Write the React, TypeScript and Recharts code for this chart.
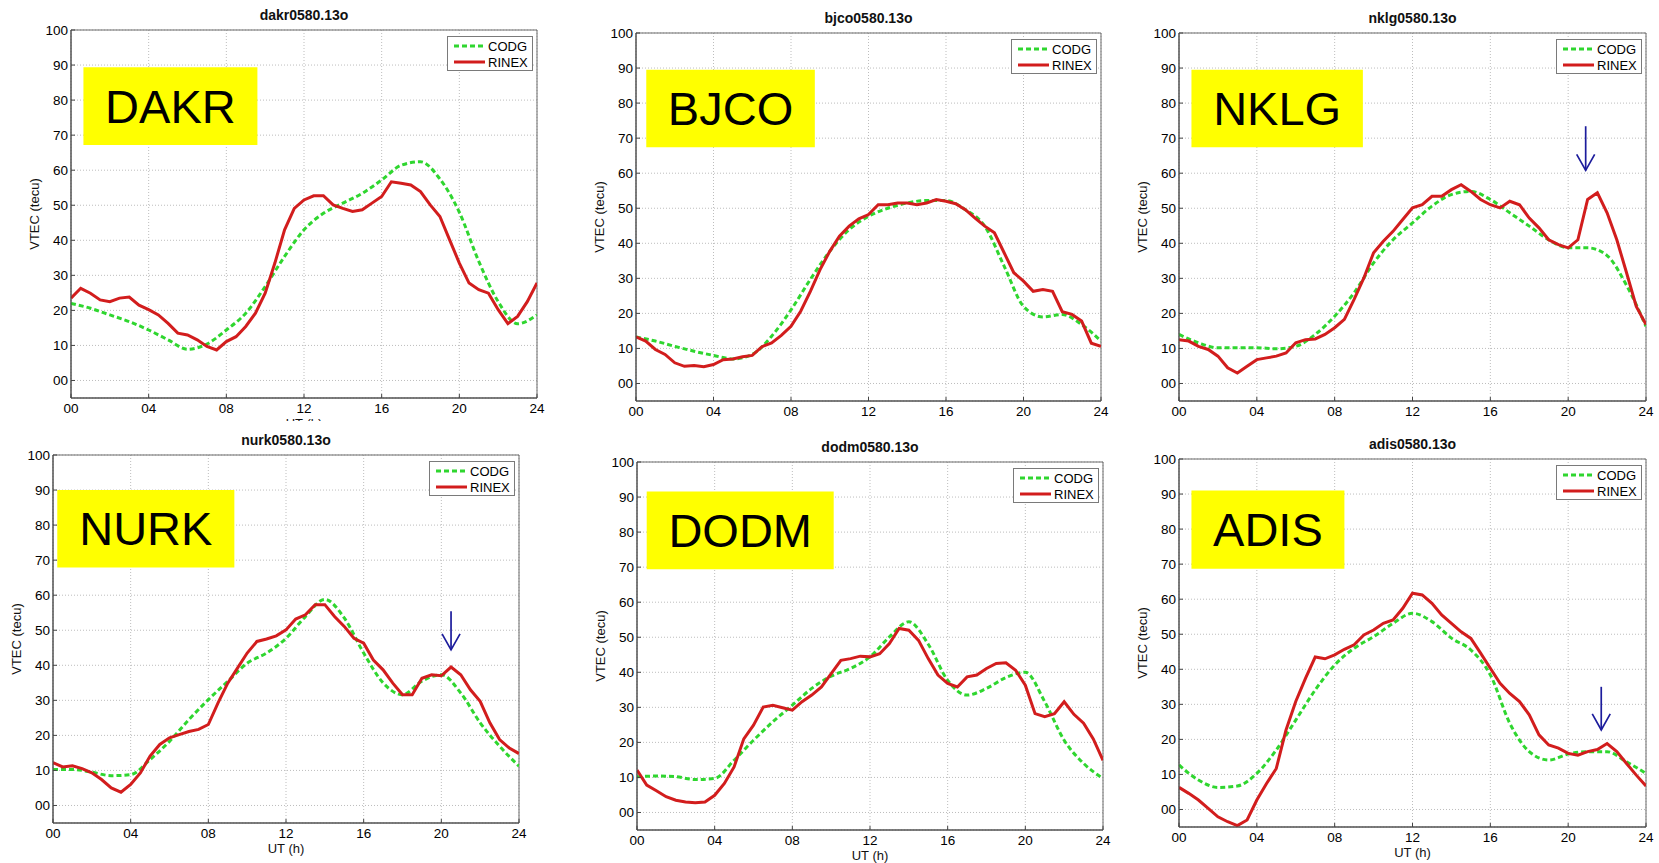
import React from 'react';
import { LineChart, Line, XAxis, YAxis, CartesianGrid, Legend, ReferenceArea, ReferenceLine } from 'recharts';

const FONT = 'Arial, "Liberation Sans", Helvetica, sans-serif';
const GREEN = '#2fd62f';
const RED = '#d21d1d';
const BLUE = '#1c1c9c';

// UT hours: CODG read hourly, RINEX read every half hour
const codgHours = [0, 1, 2, 3, 4, 5, 6, 7, 8, 9, 10, 11, 12, 13, 14, 15, 16, 17, 18, 19, 20, 21, 22, 23, 24];
const rinexHours = [0, 0.5, 1, 1.5, 2, 2.5, 3, 3.5, 4, 4.5, 5, 5.5, 6, 6.5, 7, 7.5, 8, 8.5, 9, 9.5, 10, 10.5, 11, 11.5, 12, 12.5, 13, 13.5, 14, 14.5, 15, 15.5, 16, 16.5, 17, 17.5, 18, 18.5, 19, 19.5, 20, 20.5, 21, 21.5, 22, 22.5, 23, 23.5, 24];
const xTicks = [0, 4, 8, 12, 16, 20, 24];
const yTicks = [0, 10, 20, 30, 40, 50, 60, 70, 80, 90, 100];

const dakrCodg = [22.0, 20.6, 18.7, 16.8, 14.4, 11.6, 8.9, 10.4, 14.4, 19.2, 26.8, 35.4, 43.0, 47.7, 50.6, 53.4, 57.2, 61.4, 62.4, 57.5, 48.0, 34.0, 22.5, 16.2, 18.7];
const dakrRinex = [23.5, 26.3, 24.9, 23.0, 22.5, 23.5, 23.8, 21.5, 20.2, 18.7, 16.3, 13.5, 13.0, 11.6, 9.7, 8.7, 11.1, 12.5, 15.4, 19.2, 24.9, 33.5, 43.0, 49.1, 51.5, 52.7, 52.7, 50.1, 49.1, 48.2, 48.7, 50.6, 52.5, 56.7, 56.3, 55.8, 53.9, 50.1, 46.8, 40.1, 33.5, 27.8, 25.9, 24.9, 20.2, 16.2, 18.3, 22.5, 27.8];

const bjcoCodg = [13.3, 12.1, 10.6, 9.2, 8.0, 7.0, 8.3, 13.5, 21.0, 29.7, 37.7, 43.9, 47.7, 50.0, 51.5, 52.2, 52.2, 49.6, 44.9, 33.5, 22.0, 19.0, 19.7, 16.8, 12.1];
const bjcoRinex = [13.3, 12.1, 9.7, 8.3, 5.9, 4.9, 5.1, 4.8, 5.4, 6.8, 7.0, 7.6, 8.0, 10.5, 11.6, 13.7, 16.3, 20.6, 26.3, 32.5, 37.7, 42.0, 44.9, 47.0, 48.2, 51.0, 51.0, 51.5, 51.5, 51.0, 51.5, 52.5, 52.0, 51.3, 49.6, 47.2, 44.9, 43.0, 37.3, 31.6, 29.2, 26.3, 26.8, 26.3, 20.5, 19.7, 17.8, 11.5, 10.6];

const nklgCodg = [14.0, 11.6, 10.2, 10.2, 10.2, 9.9, 10.6, 14.0, 19.2, 25.9, 34.4, 41.0, 45.8, 50.6, 53.9, 54.8, 52.5, 48.7, 44.9, 41.0, 38.7, 38.7, 36.5, 28.0, 16.3];
const nklgRinex = [12.5, 12.1, 10.6, 9.7, 7.8, 4.5, 3.0, 4.9, 6.8, 7.3, 7.8, 8.7, 11.6, 12.5, 12.7, 14.0, 15.9, 18.3, 24.0, 30.1, 37.3, 40.6, 43.4, 46.8, 50.1, 51.0, 53.4, 53.4, 55.3, 56.7, 54.8, 52.5, 51.0, 50.1, 52.0, 51.0, 47.2, 44.4, 41.0, 39.6, 38.7, 41.0, 52.5, 54.4, 48.7, 41.0, 31.6, 22.0, 16.8];

const nurkCodg = [10.3, 10.3, 9.5, 8.5, 8.8, 13.1, 18.3, 24.5, 30.2, 35.4, 40.6, 43.5, 47.7, 53.9, 58.8, 53.5, 43.5, 35.0, 31.6, 35.5, 37.3, 32.1, 23.6, 16.9, 11.2];
const nurkRinex = [12.2, 11.0, 11.3, 10.5, 9.3, 7.4, 5.0, 3.8, 6.0, 9.3, 14.1, 17.4, 19.3, 20.2, 21.1, 21.7, 23.1, 29.3, 34.9, 39.2, 43.5, 46.8, 47.5, 48.4, 50.1, 53.2, 54.4, 57.3, 57.3, 53.9, 51.1, 47.7, 46.3, 41.5, 38.7, 34.9, 31.6, 31.6, 36.3, 37.3, 37.0, 39.5, 37.3, 33.0, 29.7, 23.6, 18.8, 16.4, 14.8];

const dodmCodg = [10.2, 10.4, 10.2, 9.4, 9.7, 14.9, 20.6, 25.9, 30.6, 35.4, 38.9, 41.1, 44.4, 50.1, 54.4, 48.0, 37.7, 33.5, 35.4, 38.5, 40.0, 31.6, 20.6, 14.0, 9.7];
const dodmRinex = [12.1, 7.8, 6.2, 4.5, 3.5, 3.0, 2.8, 3.0, 4.9, 8.3, 13.0, 21.0, 24.9, 30.1, 30.6, 29.9, 29.2, 31.6, 33.5, 35.8, 39.6, 43.4, 43.9, 44.6, 44.4, 45.3, 48.2, 52.5, 52.0, 49.1, 43.9, 39.2, 36.8, 35.8, 38.7, 39.2, 41.1, 42.5, 42.7, 40.6, 36.3, 28.2, 27.3, 28.2, 31.6, 28.0, 25.5, 21.0, 14.9];

const adisCodg = [12.7, 8.4, 6.3, 6.7, 10.3, 17.0, 25.5, 34.1, 41.2, 46.0, 49.3, 53.1, 56.0, 53.6, 48.9, 45.5, 38.4, 24.6, 16.5, 14.1, 15.8, 16.5, 16.5, 13.6, 10.3];
const adisRinex = [6.3, 4.6, 2.7, 0.3, -2.1, -3.5, -4.6, -3.0, 2.7, 7.4, 11.7, 22.7, 30.8, 37.4, 43.5, 43.0, 44.1, 45.7, 47.0, 49.8, 51.2, 53.1, 54.1, 57.4, 61.7, 61.2, 58.8, 55.5, 53.1, 50.7, 48.8, 44.6, 40.3, 36.0, 33.1, 30.8, 27.0, 21.3, 18.4, 17.5, 16.0, 15.5, 16.5, 17.1, 18.8, 16.5, 13.1, 9.8, 6.7];

const stationFiles = ['dakr0580.13o', 'bjco0580.13o', 'nklg0580.13o', 'nurk0580.13o', 'dodm0580.13o', 'adis0580.13o'];
const stationNames = ['DAKR', 'BJCO', 'NKLG', 'NURK', 'DODM', 'ADIS'];
const codgSeries = [dakrCodg, bjcoCodg, nklgCodg, nurkCodg, dodmCodg, adisCodg];
const rinexSeries = [dakrRinex, bjcoRinex, nklgRinex, nurkRinex, dodmRinex, adisRinex];

// yellow name boxes [x1, x2, y1, y2] and arrows [x, yFrom, yTo], in data units
const nameBoxes = [
  [0.64, 9.6, 67.2, 89.4],
  [0.53, 9.23, 67.4, 89.5],
  [0.64, 9.45, 67.4, 89.5],
  [0.22, 9.34, 67.9, 90.0],
  [0.5, 10.13, 69.4, 91.6],
  [0.64, 8.5, 68.7, 91.0],
];
const arrows = [null, null, [20.9, 73.4, 60.8], [20.5, 55.4, 44.4], null, [21.7, 35.0, 22.7]];

// plot rectangles on the page
const plotRects = [
  { left: 71, top: 30, width: 466, height: 368 },
  { left: 636, top: 33, width: 465, height: 368 },
  { left: 1179, top: 33, width: 467, height: 368 },
  { left: 53, top: 455, width: 466, height: 368 },
  { left: 637, top: 462, width: 466, height: 368 },
  { left: 1179, top: 459, width: 467, height: 368 },
];

const ML = 50;
const MT = 20;
const MR = 12;
const XH = 30;
const MB = 10;

const zip = (hours: number[], values: number[]) => hours.map((t, i) => ({ t, v: values[i] }));
const fmtHour = (v: number) => (v < 10 ? '0' + v : String(v));
const fmtTec = (v: number) => (v === 0 ? '00' : String(v));

const ArrowShape = (p: any) => {
  const { x1, y1, x2, y2 } = p;
  return (
    <g stroke={BLUE} strokeWidth={1.7} fill="none">
      <line x1={x1} y1={y1} x2={x2} y2={y2} />
      <polyline points={`${x2 - 9},${y2 - 16} ${x2},${y2} ${x2 + 9},${y2 - 16}`} />
    </g>
  );
};

const LegendBox = () => (
  <div
    style={{
      width: 86,
      height: 35,
      boxSizing: 'border-box',
      border: '1px solid #7a7a7a',
      background: '#fff',
      fontFamily: FONT,
      fontSize: 13,
      color: '#000',
      padding: '1px 0 0 6px',
    }}
  >
    <div style={{ display: 'flex', alignItems: 'center', height: 16 }}>
      <svg width={31} height={6}>
        <line x1={0} y1={3} x2={31} y2={3} stroke={GREEN} strokeWidth={3} strokeDasharray="5 3" />
      </svg>
      <span style={{ marginLeft: 3 }}>CODG</span>
    </div>
    <div style={{ display: 'flex', alignItems: 'center', height: 16 }}>
      <svg width={31} height={6}>
        <line x1={0} y1={3} x2={31} y2={3} stroke={RED} strokeWidth={3} />
      </svg>
      <span style={{ marginLeft: 3 }}>RINEX</span>
    </div>
  </div>
);

const Panel = ({ idx, z }: { idx: number; z: number }) => {
  const plot = plotRects[idx];
  const box = nameBoxes[idx];
  const arrow = arrows[idx];
  const w = ML + plot.width + MR;
  const h = MT + plot.height + XH + MB;
  const tick = { fill: '#000', fontSize: 13.5, fontFamily: FONT };

  return (
    <div style={{ position: 'absolute', left: plot.left - ML, top: plot.top - MT, width: w, height: h, zIndex: z }}>
      <div
        style={{
          position: 'absolute', left: ML, width: plot.width, top: MT - 24, height: 18, lineHeight: '18px',
          textAlign: 'center', fontFamily: FONT, fontWeight: 'bold', fontSize: 14, color: '#111',
        }}
      >
        {stationFiles[idx]}
      </div>
      <div
        style={{
          position: 'absolute', left: ML - 37, top: MT + plot.height / 2, transform: 'translate(-50%, -50%) rotate(-90deg)',
          whiteSpace: 'nowrap', fontFamily: FONT, fontSize: 13, color: '#111',
        }}
      >
        VTEC (tecu)
      </div>
      <div
        style={{
          position: 'absolute', left: ML + plot.width / 2, top: MT + plot.height + 25, transform: 'translate(-50%, -50%)',
          whiteSpace: 'nowrap', fontFamily: FONT, fontSize: 13, color: '#111',
        }}
      >
        UT (h)
      </div>
      <LineChart width={w} height={h} margin={{ top: MT, right: MR, bottom: MB, left: 0 }}>
        <CartesianGrid stroke="#bdbdbd" strokeDasharray="1 2" />
        <XAxis
          type="number" dataKey="t" domain={[0, 24]} ticks={xTicks} interval={0} allowDataOverflow
          tickFormatter={fmtHour} height={XH} tickSize={-4} tickMargin={9}
          tickLine={{ stroke: '#444' }} axisLine={{ stroke: '#444' }} tick={tick}
        />
        <YAxis
          type="number" domain={[-5, 100]} ticks={yTicks} interval={0} allowDataOverflow
          tickFormatter={fmtTec} width={ML} tickSize={-4} tickMargin={7}
          tickLine={{ stroke: '#444' }} axisLine={{ stroke: '#444' }} tick={tick}
        />
        <ReferenceArea
          x1={box[0]} x2={box[1]} y1={box[2]} y2={box[3]} fill="#ffff00" fillOpacity={1} stroke="none"
          ifOverflow="visible"
          label={{ value: stationNames[idx], position: 'center', fontSize: 47, fill: '#000', fontFamily: FONT }}
        />
        <Line
          data={zip(codgHours, codgSeries[idx])} dataKey="v" name="CODG" type="monotone"
          stroke={GREEN} strokeWidth={3} strokeDasharray="5 3" dot={false} activeDot={false} isAnimationActive={false}
        />
        <Line
          data={zip(rinexHours, rinexSeries[idx])} dataKey="v" name="RINEX" type="linear"
          stroke={RED} strokeWidth={3} dot={false} activeDot={false} isAnimationActive={false}
        />
        <ReferenceArea x1={0} x2={24} y1={-5} y2={100} fill="none" stroke="#6a6a6a" ifOverflow="visible" />
        {arrow && (
          <ReferenceLine
            segment={[{ x: arrow[0], y: arrow[1] }, { x: arrow[0], y: arrow[2] }]}
            stroke={BLUE} ifOverflow="visible" shape={ArrowShape}
          />
        )}
        <Legend
          layout="vertical" align="center" verticalAlign="middle" content={LegendBox}
          wrapperStyle={{ left: ML + plot.width - 90, top: MT + 6, width: 86, height: 35 }}
        />
      </LineChart>
    </div>
  );
};

const App = () => {
  return (
    <div style={{ position: 'absolute', left: 0, top: 0, width: 1659, height: 863, background: '#fff', overflow: 'hidden' }}>
      <Panel idx={0} z={1} />
      <Panel idx={1} z={1} />
      <Panel idx={2} z={1} />
      <div style={{ position: 'absolute', left: 0, top: 421, width: 1659, height: 442, background: '#fff', zIndex: 2 }} />
      <Panel idx={3} z={3} />
      <Panel idx={4} z={3} />
      <Panel idx={5} z={3} />
    </div>
  );
};

export default App;
